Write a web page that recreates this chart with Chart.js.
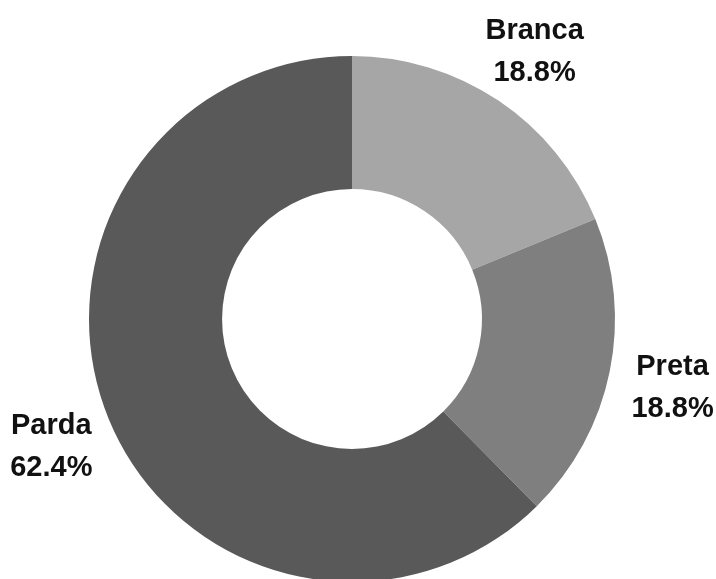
<!DOCTYPE html>
<html>
<head>
<meta charset="utf-8">
<script src="https://cdn.jsdelivr.net/npm/chart.js@4/dist/chart.umd.min.js"></script>
<style>
  html, body { margin: 0; padding: 0; background: #fff; overflow: hidden; }
  #wrap { position: relative; width: 716px; height: 582px; }
</style>
</head>
<body>
<div id="wrap"><canvas id="chart"></canvas></div>
<script>
// Raça / cor
const categories = ['Branca', 'Preta', 'Parda'];
const shares = [18.8, 18.8, 62.4];
const sliceColors = ['#a6a6a6', '#7f7f7f', '#595959'];

// name + percent drawn outside each slice along its mid angle
const outsideLabels = {
  id: 'outsideLabels',
  afterDatasetsDraw(chart) {
    const ctx = chart.ctx;
    const meta = chart.getDatasetMeta(0);
    ctx.save();
    ctx.font = 'bold 29px "Liberation Sans", Arial, sans-serif';
    ctx.fillStyle = '#111';
    ctx.textAlign = 'center';
    ctx.textBaseline = 'middle';
    meta.data.forEach((arc, i) => {
      const { x, y, startAngle, endAngle, outerRadius } = arc.getProps(['x', 'y', 'startAngle', 'endAngle', 'outerRadius'], true);
      const mid = (startAngle + endAngle) / 2;
      const r = outerRadius * 1.24;
      const lx = x + Math.cos(mid) * r + 1;
      const ly = y + Math.sin(mid) * r + 2;
      ctx.fillText(chart.data.labels[i], lx, ly - 19);
      ctx.fillText(shares[i].toFixed(1) + '%', lx, ly + 23);
    });
    ctx.restore();
  }
};

new Chart(document.getElementById('chart'), {
  type: 'doughnut',
  data: {
    labels: categories,
    datasets: [{
      data: shares,
      backgroundColor: sliceColors,
      borderWidth: 0
    }]
  },
  options: {
    responsive: true,
    maintainAspectRatio: false,
    animation: false,
    cutout: '49.4%',
    layout: { padding: { top: 56, bottom: 0, left: 89, right: 101 } },
    plugins: {
      legend: { display: false },
      tooltip: { enabled: false }
    }
  },
  plugins: [outsideLabels]
});
</script>
</body>
</html>
